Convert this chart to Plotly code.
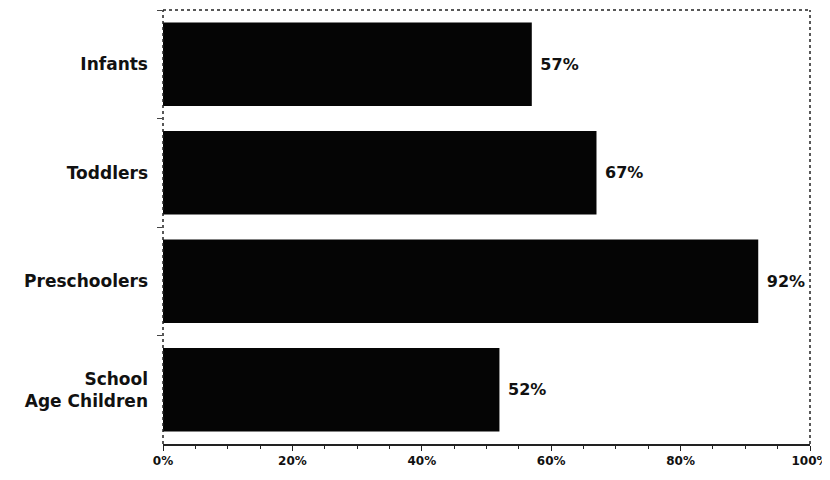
import plotly.graph_objects as go

categories = ["Infants", "Toddlers", "Preschoolers", "School<br>Age Children"]
values = [57, 67, 92, 52]
value_labels = ["57%", "67%", "92%", "52%"]
tick_vals = [0, 20, 40, 60, 80, 100]
tick_text = ["0%", "20%", "40%", "60%", "80%", "100%"]

FONT = "DejaVu Sans"

fig = go.Figure(go.Bar(
    y=categories, x=values, orientation="h",
    marker=dict(color="#050505", line=dict(width=0)),
    text=[" " + t for t in value_labels], textposition="outside", cliponaxis=False,
    textfont=dict(family=FONT, size=16, color="#111", weight="bold"),
))

fig.update_layout(
    width=822, height=472,
    margin=dict(l=155, r=20, t=2, b=36, autoexpand=False),
    paper_bgcolor="white", plot_bgcolor="white",
    bargap=0.23, showlegend=False,
    font=dict(family=FONT, color="#111"),
    shapes=[
        dict(type="line", xref="paper", yref="paper", x0=0, x1=1, y0=1, y1=1,
             line=dict(color="#222", width=1.5, dash="dot")),
        dict(type="line", xref="paper", yref="paper", x0=1, x1=1, y0=0, y1=1,
             line=dict(color="#222", width=1.5, dash="dot")),
        dict(type="line", xref="paper", yref="paper", x0=0, x1=0, y0=0, y1=1,
             line=dict(color="#222", width=1.5, dash="dot")),
    ],
)
fig.update_xaxes(
    range=[0, 100], tickvals=tick_vals, ticktext=tick_text, automargin=False,
    showgrid=False, zeroline=False, showline=True, linecolor="#222", linewidth=1.5,
    ticks="outside", ticklen=5, tickcolor="#222",
    minor=dict(dtick=5, ticks="outside", ticklen=3, tickcolor="#222", showgrid=False),
    tickfont=dict(family=FONT, size=12, color="#111", weight="bold"),
)
fig.update_yaxes(
    autorange="reversed", showgrid=False, zeroline=False, showline=False, automargin=False,
    ticks="outside", tickson="boundaries", ticklen=5, tickcolor="#444",
    ticklabelstandoff=14,
    tickfont=dict(family=FONT, size=17, color="#111", weight="bold"),
)

fig.write_html("out.html")
